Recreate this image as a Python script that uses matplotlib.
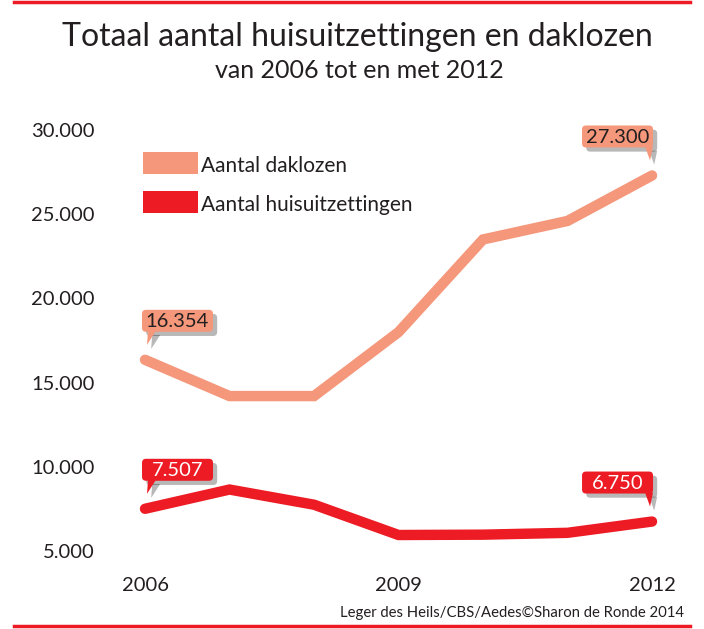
import matplotlib
matplotlib.use("Agg")
import matplotlib.pyplot as plt
from matplotlib.patheffects import withSimplePatchShadow
from matplotlib.lines import Line2D
from matplotlib.patches import Rectangle, FancyBboxPatch, Polygon

plt.rcParams['font.family'] = ['Lato', 'DejaVu Sans']

years = [2006, 2007, 2008, 2009, 2010, 2011, 2012]
daklozen = [16354, 14200, 14200, 18000, 23500, 24600, 27300]
huisuitzettingen = [7507, 8650, 7750, 5950, 5970, 6080, 6750]
yticks = [5000, 10000, 15000, 20000, 25000, 30000]
ytick_labels = ['5.000', '10.000', '15.000', '20.000', '25.000', '30.000']
xticks = [2006, 2009, 2012]
xtick_labels = ['2006', '2009', '2012']

c_dak = '#F4977A'
c_huis = '#ED1C24'
txt = '#231F20'

W, H = 704, 629
fig = plt.figure(figsize=(W/100, H/100), dpi=100)

left, right, top, bottom = 120, 680, 110, 560
ax = fig.add_axes([left/W, 1-bottom/H, (right-left)/W, (bottom-top)/H])
ax.set_xlim(2005.704, 2012.331)
ax.set_ylim(4466, 31188)
for s in ax.spines.values():
    s.set_visible(False)
ax.set_yticks(yticks)
ax.set_yticklabels(ytick_labels)
ax.set_xticks(xticks)
ax.set_xticklabels(xtick_labels)
ax.tick_params(length=0, labelsize=14.5, colors=txt)
ax.tick_params(axis='y', pad=18)
ax.tick_params(axis='x', pad=12)

ax.plot(years, daklozen, color=c_dak, lw=7.5, solid_capstyle='round', solid_joinstyle='miter')
ax.plot(years, huisuitzettingen, color=c_huis, lw=7.5, solid_capstyle='round', solid_joinstyle='miter')

shadow = [withSimplePatchShadow(offset=(3, -3), shadow_rgbFace='black', alpha=0.28)]

def callout(x, y, text, fc, tc, side):
    px, py = ax.transData.transform((x, y))
    bw, bh = 71, 22
    if side == 'left':
        bx0 = px - 3
        tail = [(px + 3, py + 29), (px + 11, py + 29), (px + 2, py + 15)]
    else:
        bx0 = px + 1 - bw
        tail = [(px - 7, py + 29), (px + 1, py + 29), (px - 2, py + 15)]
    by0 = py + 28
    box = FancyBboxPatch((bx0, by0), bw, bh, boxstyle='round,pad=0,rounding_size=4',
                         fc=fc, ec='none', transform=None, zorder=5)
    tri = Polygon(tail, closed=True, fc=fc, ec='none', transform=None, zorder=5)
    box.set_path_effects(shadow)
    tri.set_path_effects(shadow)
    fig.add_artist(box)
    fig.add_artist(tri)
    fig.text((bx0 + bw / 2) / W, (by0 + bh / 2 - 1) / H, text, fontsize=14.5, color=tc,
             ha='center', va='center', zorder=6)

callout(years[0], daklozen[0], '16.354', c_dak, txt, 'left')
callout(years[-1], daklozen[-1], '27.300', c_dak, txt, 'right')
callout(years[0], huisuitzettingen[0], '7.507', c_huis, 'white', 'left')
callout(years[-1], huisuitzettingen[-1], '6.750', c_huis, 'white', 'right')

# legend
fig.patches.append(Rectangle((143/W, 1-174/H), 55/W, 22/H, transform=fig.transFigure, fc=c_dak, ec='none'))
fig.patches.append(Rectangle((143/W, 1-213/H), 55/W, 22/H, transform=fig.transFigure, fc=c_huis, ec='none'))
fig.text(201/W, 1-166/H, 'Aantal daklozen', fontsize=15, color=txt, va='center', ha='left')
fig.text(201/W, 1-205/H, 'Aantal huisuitzettingen', fontsize=15, color=txt, va='center', ha='left')

# titles
fig.text(357/W, 1-37/H, 'Totaal aantal huisuitzettingen en daklozen', fontsize=23, color=txt, ha='center', va='center')
fig.text(359/W, 1-71/H, 'van 2006 tot en met 2012', fontsize=18, color=txt, ha='center', va='center')
fig.text(684/W, 1-613/H, 'Leger des Heils/CBS/Aedes\u00a9Sharon de Ronde 2014', fontsize=10.7, color=txt, ha='right', va='center')

# red rules
fig.add_artist(Line2D([14/W, 690/W], [1-2/H, 1-2/H], color=c_huis, lw=2.5, transform=fig.transFigure))
fig.add_artist(Line2D([14/W, 690/W], [1-626/H, 1-626/H], color=c_huis, lw=2.5, transform=fig.transFigure))

fig.savefig('out.png', dpi=100, facecolor='white')
